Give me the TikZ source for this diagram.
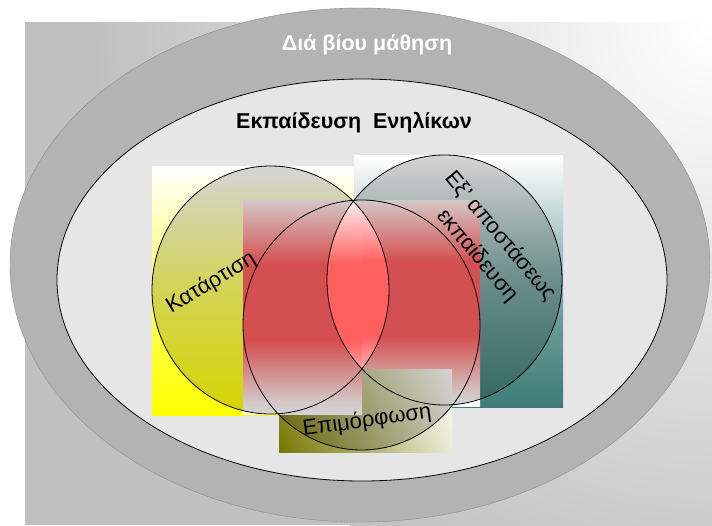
\documentclass[tikz,border=0pt]{standalone}
\usepackage{fontspec}
\setmainfont{Liberation Sans}
\usetikzlibrary{shadings}

\definecolor{bggray}{RGB}{192,192,192}
\definecolor{ringgray}{RGB}{179,179,179}
\definecolor{innergray}{RGB}{230,230,230}
\definecolor{tealc}{RGB}{60,124,119}
\definecolor{redc}{RGB}{255,96,96}
\definecolor{olivec}{RGB}{118,118,0}

% red box: white at both ends, red in the middle
\pgfdeclareverticalshading{redfade}{100bp}{color(0bp)=(white); color(25bp)=(white);
  color(28bp)=(red!6!white); color(42bp)=(redc); color(60bp)=(redc);
  color(75bp)=(red!6!white); color(100bp)=(red!6!white)}

\tikzset{
  circ/.style={draw=black, line width=0.8pt},
  lbl/.style={font=\fontsize{22}{30}\selectfont, inner sep=0pt},
  title/.style={font=\bfseries\fontsize{21.5}{25}\selectfont, inner sep=0pt},
  redbox/.style={shading=redfade}
}

\begin{document}
\begin{tikzpicture}[x=1pt,y=-1pt]

  \useasboundingbox (0,0) rectangle (712,525);

  % Background panel
  \fill[bggray] (25,22) rectangle (712,525);
  \begin{scope}
    \clip (25,22) rectangle (712,525);
    \shade[inner color=white, outer color=bggray] (712,22) circle (620);
  \end{scope}

  % Outer and inner ellipse
  \draw[fill=ringgray, draw=gray!90] (360,265) ellipse [x radius=350, y radius=257];
  \draw[fill=innergray, circ] (362,280) ellipse [x radius=305, y radius=201];

  % Define the three circles
  \def\yel{(270.5,290) ellipse [x radius=118.5, y radius=124]}
  \def\tea{(444.5,280) ellipse [x radius=117.5, y radius=125]}
  \def\rd{(361.5,325) ellipse [x radius=118.5, y radius=125]}

  % Gradient boxes behind the circles
  \shade[top color=white, bottom color=yellow, middle color=yellow!60!white] (152,166) rectangle (354,415);
  \shade[top color=white, bottom color=tealc, middle color=tealc!65!white] (354,155) rectangle (563,407);
  \shade[redbox] (362,200) rectangle (480,406);
  \shade[lower left=olivec, upper left=olivec!75!white, lower right=olivec!15!white, upper right=white] (279,369) rectangle (452,452);
  \shade[redbox] (243,200) rectangle (362,414);

  % Dark tint inside the circles
  \fill[black, opacity=0.17] \yel \tea \rd;

  % Lens of the two upper circles stays bright
  \begin{scope}
    \clip \yel;
    \clip \tea;
    \shade[redbox] (362,200) rectangle (480,406);
    \shade[redbox] (243,200) rectangle (362,414);
  \end{scope}

  % Circles
  \draw[circ] \yel;
  \draw[circ] \tea;
  \draw[circ] \rd;

  % Labels
  \node[title, text=white] (lifelong) at (367,45) {Διά βίου μάθηση};
  \node[title] (adult) at (354,123) {Εκπαίδευση\ \ Ενηλίκων};
  \node[lbl, rotate=31] (training) at (211,283) {Κατάρτιση};
  \node[lbl, rotate=-50, align=center] (distance) at (489,246) {Εξ’ αποστάσεως\\εκπαίδευση};
  \node[lbl, rotate=8] (further) at (367,421) {Επιμόρφωση};

\end{tikzpicture}
\end{document}
